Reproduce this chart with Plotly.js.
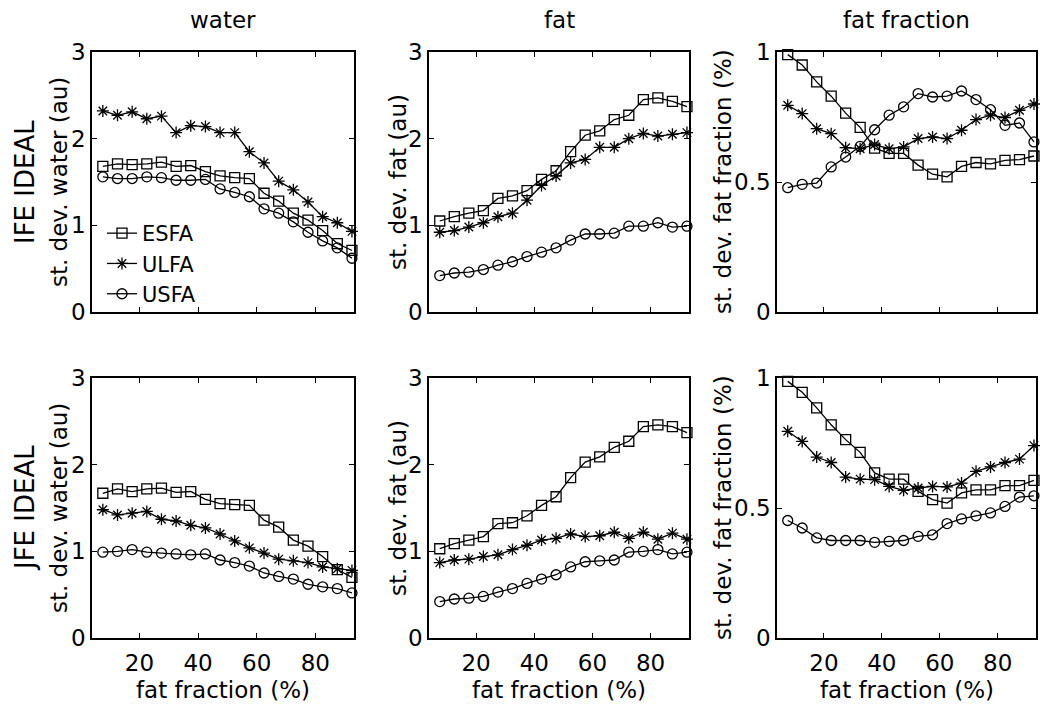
<!DOCTYPE html>
<html>
<head>
<meta charset="utf-8">
<script src="https://cdn.plot.ly/plotly-3.0.1.min.js"></script>
<style>
  html, body { margin: 0; padding: 0; background: #fff; }
  #chart { width: 1050px; height: 717px; }
</style>
</head>
<body>
<div id="chart"></div>
<script>
// fat fraction (%) of each phantom vial
const FAT_FRACTION = [7.5, 12.5, 17.5, 22.5, 27.5, 32.5, 37.5, 42.5, 47.5, 52.5, 57.5, 62.5, 67.5, 72.5, 77.5, 82.5, 87.5, 92.5];

const METHODS = ['ESFA', 'ULFA', 'USFA'];
const COL_TITLES = ['water', 'fat', 'fat fraction'];
const ROW_TITLES = ['IFE IDEAL', 'JFE IDEAL'];
const Y_TITLES = ['st. dev. water (au)', 'st. dev. fat (au)', 'st. dev. fat fraction (%)'];
const X_TITLE = 'fat fraction (%)';
const X_TICKS = [20, 40, 60, 80];
const Y_TICKS_AU = [0, 1, 2, 3];
const Y_TICKS_FF = [0, 0.5, 1];

// IFE IDEAL
const IFE_WATER_ESFA = [1.68, 1.71, 1.70, 1.71, 1.73, 1.68, 1.69, 1.62, 1.57, 1.55, 1.54, 1.37, 1.28, 1.14, 1.06, 0.94, 0.79, 0.71];
const IFE_WATER_ULFA = [2.32, 2.27, 2.31, 2.23, 2.26, 2.07, 2.15, 2.14, 2.07, 2.07, 1.85, 1.72, 1.51, 1.41, 1.27, 1.10, 1.03, 0.93];
const IFE_WATER_USFA = [1.56, 1.54, 1.54, 1.56, 1.55, 1.52, 1.52, 1.53, 1.42, 1.38, 1.33, 1.19, 1.14, 1.04, 0.92, 0.82, 0.74, 0.62];

const IFE_FAT_ESFA = [1.05, 1.10, 1.14, 1.17, 1.31, 1.34, 1.40, 1.53, 1.63, 1.85, 2.04, 2.09, 2.22, 2.27, 2.45, 2.47, 2.43, 2.37];
const IFE_FAT_ULFA = [0.92, 0.94, 0.98, 1.03, 1.10, 1.14, 1.29, 1.46, 1.57, 1.72, 1.76, 1.90, 1.90, 2.00, 2.06, 2.03, 2.05, 2.07];
const IFE_FAT_USFA = [0.42, 0.45, 0.46, 0.49, 0.54, 0.58, 0.64, 0.69, 0.74, 0.83, 0.90, 0.90, 0.91, 0.99, 0.99, 1.03, 0.98, 0.99];

const IFE_FF_ESFA = [0.99, 0.95, 0.885, 0.83, 0.765, 0.71, 0.63, 0.61, 0.61, 0.565, 0.53, 0.52, 0.56, 0.575, 0.57, 0.583, 0.586, 0.60];
const IFE_FF_ULFA = [0.795, 0.763, 0.705, 0.686, 0.632, 0.628, 0.644, 0.628, 0.635, 0.667, 0.673, 0.667, 0.699, 0.74, 0.757, 0.748, 0.776, 0.80];
const IFE_FF_USFA = [0.478, 0.491, 0.496, 0.558, 0.596, 0.637, 0.701, 0.757, 0.789, 0.84, 0.827, 0.83, 0.85, 0.817, 0.778, 0.718, 0.727, 0.654];

// JFE IDEAL
const JFE_WATER_ESFA = [1.67, 1.72, 1.69, 1.72, 1.73, 1.68, 1.69, 1.60, 1.55, 1.54, 1.53, 1.36, 1.28, 1.13, 1.06, 0.94, 0.79, 0.70];
const JFE_WATER_ULFA = [1.48, 1.42, 1.44, 1.46, 1.37, 1.35, 1.30, 1.27, 1.20, 1.12, 1.04, 0.98, 0.91, 0.89, 0.87, 0.82, 0.80, 0.78];
const JFE_WATER_USFA = [0.99, 1.00, 1.02, 0.99, 0.98, 0.97, 0.96, 0.97, 0.90, 0.87, 0.83, 0.75, 0.71, 0.68, 0.62, 0.59, 0.57, 0.52];

const JFE_FAT_ESFA = [1.03, 1.09, 1.13, 1.17, 1.32, 1.33, 1.41, 1.53, 1.63, 1.85, 2.03, 2.09, 2.20, 2.27, 2.44, 2.46, 2.44, 2.37];
const JFE_FAT_ULFA = [0.87, 0.90, 0.91, 0.94, 0.96, 1.02, 1.07, 1.13, 1.15, 1.20, 1.17, 1.18, 1.22, 1.15, 1.22, 1.14, 1.21, 1.14];
const JFE_FAT_USFA = [0.42, 0.45, 0.46, 0.48, 0.53, 0.57, 0.63, 0.68, 0.73, 0.82, 0.88, 0.89, 0.90, 0.99, 1.00, 1.02, 0.97, 0.99];

const JFE_FF_ESFA = [0.987, 0.945, 0.885, 0.82, 0.763, 0.714, 0.635, 0.611, 0.611, 0.564, 0.532, 0.519, 0.558, 0.57, 0.57, 0.586, 0.586, 0.606];
const JFE_FF_ULFA = [0.795, 0.756, 0.696, 0.675, 0.619, 0.611, 0.609, 0.583, 0.568, 0.577, 0.583, 0.581, 0.596, 0.641, 0.658, 0.675, 0.688, 0.74];
const JFE_FF_USFA = [0.452, 0.423, 0.385, 0.375, 0.375, 0.375, 0.368, 0.372, 0.375, 0.391, 0.397, 0.44, 0.458, 0.47, 0.481, 0.506, 0.542, 0.547];

const PANELS = [
  [IFE_WATER_ESFA, IFE_WATER_ULFA, IFE_WATER_USFA],
  [IFE_FAT_ESFA,   IFE_FAT_ULFA,   IFE_FAT_USFA],
  [IFE_FF_ESFA,    IFE_FF_ULFA,    IFE_FF_USFA],
  [JFE_WATER_ESFA, JFE_WATER_ULFA, JFE_WATER_USFA],
  [JFE_FAT_ESFA,   JFE_FAT_ULFA,   JFE_FAT_USFA],
  [JFE_FF_ESFA,    JFE_FF_ULFA,    JFE_FF_USFA],
];

const SYMBOLS = ['square-open', 'asterisk-open', 'circle-open'];
const FONT = 'DejaVu Sans, Liberation Sans, Arial, sans-serif';
const W = 1050, H = 717;

// panel boxes in pixels
const COL_X = [[92, 354], [429, 689], [777, 1036]];
const ROW_Y = [[52, 312], [378, 638]];

const traces = [];
PANELS.forEach((series, p) => {
  const ax = p === 0 ? '' : String(p + 1);
  series.forEach((vals, m) => {
    traces.push({
      type: 'scatter',
      mode: 'lines+markers',
      name: METHODS[m],
      x: FAT_FRACTION,
      y: vals,
      xaxis: 'x' + ax,
      yaxis: 'y' + ax,
      showlegend: p === 0,
      line: { color: '#000', width: 1.3 },
      marker: { symbol: SYMBOLS[m], size: 10, color: '#000', line: { color: '#000', width: 1.3 } },
      cliponaxis: false,
    });
  });
});

const layout = {
  width: W, height: H,
  margin: { t: 0, b: 0, l: 0, r: 0 },
  paper_bgcolor: '#fff',
  plot_bgcolor: '#fff',
  font: { family: FONT, color: '#000', size: 23 },
  showlegend: true,
  legend: {
    x: 102 / W, y: 1 - 213 / H, xanchor: 'left', yanchor: 'top',
    bgcolor: 'rgba(0,0,0,0)', borderwidth: 0,
    font: { family: FONT, size: 21, color: '#000' },
    tracegroupgap: 0,
  },
  annotations: [],
};

for (let p = 0; p < 6; p++) {
  const row = Math.floor(p / 3), col = p % 3;
  const ax = p === 0 ? '' : String(p + 1);
  const bottom = row === 1;
  const ff = col === 2;
  layout['xaxis' + ax] = {
    domain: [COL_X[col][0] / W, COL_X[col][1] / W],
    anchor: 'y' + ax,
    range: [3.8, 93.2],
    tickvals: X_TICKS,
    showticklabels: bottom,
    ticks: 'inside', ticklen: 5, tickwidth: 1, tickcolor: '#000',
    showline: true, linecolor: '#000', linewidth: 1.5, mirror: 'ticks',
    showgrid: false, zeroline: false,
    tickfont: { family: FONT, size: 23, color: '#000' },
    ticklabelstandoff: 4,
  };
  layout['yaxis' + ax] = {
    domain: [1 - ROW_Y[row][1] / H, 1 - ROW_Y[row][0] / H],
    anchor: 'x' + ax,
    range: ff ? [0, 1] : [0, 3],
    tickvals: ff ? Y_TICKS_FF : Y_TICKS_AU,
    ticktext: ff ? ['0', '0.5', '1'] : ['0', '1', '2', '3'],
    ticks: 'inside', ticklen: 5, tickwidth: 1, tickcolor: '#000',
    showline: true, linecolor: '#000', linewidth: 1.5, mirror: 'ticks',
    showgrid: false, zeroline: false,
    tickfont: { family: FONT, size: 23, color: '#000' },
  };
}

// column titles, y titles, row titles, x titles
const Y_TITLE_X = [59, 398, 723];
COL_TITLES.forEach((t, c) => {
  layout.annotations.push({
    text: t, xref: 'paper', yref: 'paper',
    x: (COL_X[c][0] + COL_X[c][1]) / 2 / W, y: 1 - 20 / H,
    xanchor: 'center', yanchor: 'middle', showarrow: false,
    font: { family: FONT, size: 23 },
  });
  layout.annotations.push({
    text: X_TITLE, xref: 'paper', yref: 'paper',
    x: (COL_X[c][0] + COL_X[c][1]) / 2 / W, y: 1 - 690 / H,
    xanchor: 'center', yanchor: 'middle', showarrow: false,
    font: { family: FONT, size: 23 },
  });
  ROW_Y.forEach(r => {
    layout.annotations.push({
      text: Y_TITLES[c], xref: 'paper', yref: 'paper',
      x: Y_TITLE_X[c] / W, y: 1 - (r[0] + r[1]) / 2 / H,
      xanchor: 'center', yanchor: 'middle', showarrow: false, textangle: -90,
      font: { family: FONT, size: 23 },
    });
  });
});
ROW_TITLES.forEach((t, r) => {
  layout.annotations.push({
    text: t, xref: 'paper', yref: 'paper',
    x: 25 / W, y: 1 - (ROW_Y[r][0] + ROW_Y[r][1]) / 2 / H,
    xanchor: 'center', yanchor: 'middle', showarrow: false, textangle: -90,
    font: { family: FONT, size: 26 },
  });
});

Plotly.newPlot('chart', traces, layout, { displayModeBar: false, responsive: false });
</script>
</body>
</html>
